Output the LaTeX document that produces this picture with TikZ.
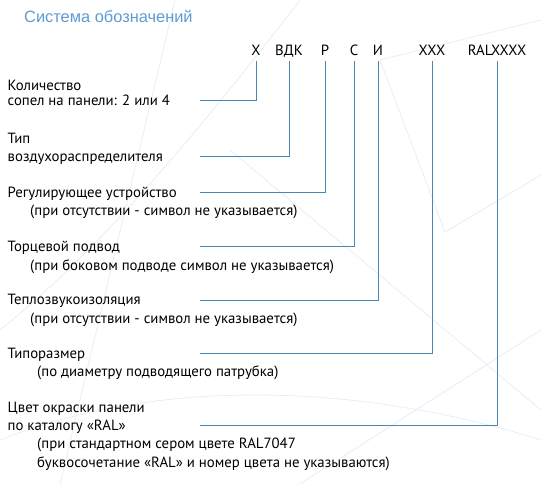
\documentclass[tikz,border=0pt]{standalone}
\usepackage{fontspec}
\setmainfont{PT Sans}
\newfontfamily\headfont{Liberation Sans}
\definecolor{leadblue}{RGB}{74,134,178}
\definecolor{titleblue}{RGB}{95,155,210}
\definecolor{bgline}{RGB}{229,238,247}
\tikzstyle{head} = [inner sep=0pt, anchor=west, text=titleblue, font=\headfont\fontsize{16.4}{19}\selectfont]
\tikzstyle{code} = [inner sep=0pt, text height=10.4pt, text depth=0pt, font=\fontsize{14.8}{18}\selectfont]
\tikzstyle{txt} = [inner sep=0pt, anchor=west, text height=10.4pt, text depth=0pt, font=\fontsize{14.8}{18}\selectfont]
\tikzstyle{lead} = [draw=leadblue, line width=0.9pt]
\tikzstyle{deco} = [draw=bgline, line width=0.8pt]

\begin{document}
\begin{tikzpicture}[x=1pt, y=-1pt]
  \useasboundingbox (0,0) rectangle (541,484);
  % faint background pattern
  \draw [deco] (445,232) -- (541,175);
  \draw [deco] (445,232) -- (380,60) -- (541,20);
  \draw [deco] (0,330) .. controls (100,250) and (200,130) .. (300,0);
  \draw [deco] (60,484) -- (175,0);
  \draw [deco] (300,484) -- (541,330);
  \draw [deco] (230,150) -- (541,410);
  \draw [deco] (0,440) .. controls (150,380) and (350,380) .. (541,440);
  % title
  \node (title) at (24,16) [head] {Система обозначений};
  % code letters
  \node (cx) at (256,50) [code] {X};
  \node (cvdk) at (289,50) [code] {ВДК};
  \node (cr) at (325,50) [code] {Р};
  \node (cs) at (354,50) [code] {С};
  \node (ci) at (378,50) [code] {И};
  \node (cxxx) at (432,50) [code] {XXX};
  \node (cral) at (497,50) [code] {RALXXXX};
  % descriptions
  \node (kol1) at (7.5,85) [txt] {Количество};
  \node (kol2) at (7.5,100) [txt] {сопел на панели: 2 или 4};
  \node (tip1) at (7.5,138) [txt] {Тип};
  \node (tip2) at (7.5,156) [txt] {воздухораспределителя};
  \node (reg1) at (7.5,192) [txt] {Регулирующее устройство};
  \node (reg2) at (30,210) [txt] {(при отсутствии - символ не указывается)};
  \node (tor1) at (7.5,246) [txt] {Торцевой подвод};
  \node (tor2) at (30,265) [txt] {(при боковом подводе символ не указывается)};
  \node (izo1) at (7.5,299) [txt] {Теплозвукоизоляция};
  \node (izo2) at (30,318) [txt] {(при отсутствии - символ не указывается)};
  \node (raz1) at (7.5,353) [txt] {Типоразмер};
  \node (raz2) at (37,371) [txt] {(по диаметру подводящего патрубка)};
  \node (ral1) at (7.5,407) [txt] {Цвет окраски панели};
  \node (ral2) at (7.5,425) [txt] {по каталогу «RAL»};
  \node (ral3) at (37,443) [txt] {(при стандартном сером цвете RAL7047};
  \node (ral4) at (37,462) [txt] {буквосочетание «RAL» и номер цвета не указываются)};
  % line ends
  \coordinate (kx) at (200,100);
  \coordinate (kvdk) at (200,156);
  \coordinate (kr) at (200,192);
  \coordinate (ks) at (200,246);
  \coordinate (ki) at (200,300);
  \coordinate (kxxx) at (200,353);
  \coordinate (kral) at (200,425);
  \draw [lead] ([yshift=-6pt]cx.south) |- (kx);
  \draw [lead] ([yshift=-6pt]cvdk.south) |- (kvdk);
  \draw [lead] ([yshift=-6pt]cr.south) |- (kr);
  \draw [lead] ([yshift=-6pt]cs.south) |- (ks);
  \draw [lead] ([yshift=-6pt]ci.south) |- (ki);
  \draw [lead] ([yshift=-6pt]cxxx.south) |- (kxxx);
  \draw [lead] ([yshift=-6pt]cral.south) |- (kral);
\end{tikzpicture}
\end{document}
